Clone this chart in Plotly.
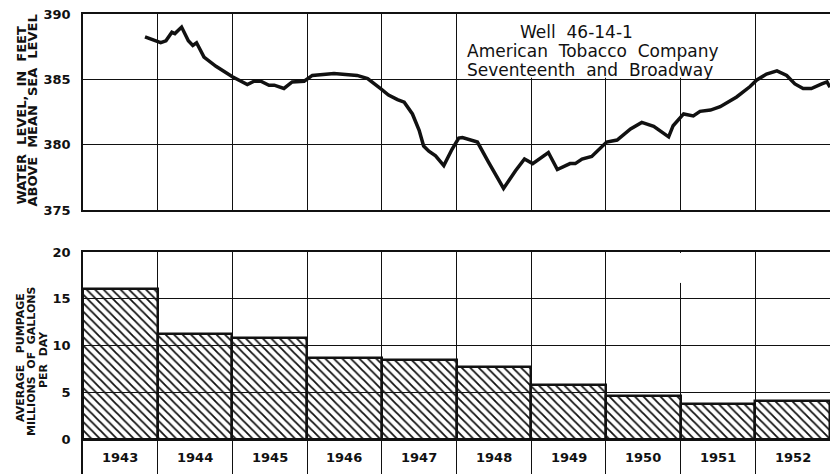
import plotly.graph_objects as go

# ---------------- data ----------------
# Water level, Well 46-14-1 (decimal year, feet above mean sea level)
level_year = [1943.83, 1944.04, 1944.11, 1944.19, 1944.23, 1944.32, 1944.41, 1944.47, 1944.52,
              1944.62, 1944.78, 1945.00, 1945.20, 1945.29, 1945.38, 1945.49, 1945.56, 1945.69,
              1945.80, 1945.96, 1946.07, 1946.36, 1946.67, 1946.81, 1946.98, 1947.09, 1947.21,
              1947.30, 1947.41, 1947.50, 1947.56, 1947.63, 1947.72, 1947.83, 1947.94, 1948.03,
              1948.08, 1948.28, 1948.43, 1948.63, 1948.79, 1948.91, 1949.02, 1949.23, 1949.35,
              1949.52, 1949.59, 1949.68, 1949.81, 1950.01, 1950.15, 1950.33, 1950.48, 1950.64,
              1950.84, 1950.90, 1951.04, 1951.17, 1951.26, 1951.40, 1951.53, 1951.75, 1951.93,
              1952.02, 1952.15, 1952.29, 1952.42, 1952.53, 1952.64, 1952.75, 1952.89, 1952.96,
              1953.00]
level_ft = [388.25, 387.8, 387.95, 388.6, 388.5, 389.0, 387.95, 387.6, 387.8,
            386.7, 386.0, 385.2, 384.6, 384.85, 384.85, 384.55, 384.55, 384.3,
            384.8, 384.85, 385.3, 385.45, 385.3, 385.05, 384.3, 383.8, 383.45,
            383.25, 382.35, 381.1, 379.9, 379.5, 379.15, 378.4, 379.65, 380.5,
            380.55, 380.2, 378.65, 376.65, 378.0, 378.9, 378.55, 379.4, 378.1,
            378.55, 378.55, 378.9, 379.1, 380.2, 380.35, 381.2, 381.7, 381.4,
            380.6, 381.45, 382.35, 382.2, 382.55, 382.65, 382.9, 383.65, 384.45,
            384.95, 385.4, 385.65, 385.3, 384.65, 384.3, 384.3, 384.65, 384.8,
            384.4]

# Average pumpage, millions of gallons per day
pump_years = [1943, 1944, 1945, 1946, 1947, 1948, 1949, 1950, 1951, 1952]
pump_mgd = [16.1, 11.3, 10.8, 8.7, 8.5, 7.7, 5.8, 4.6, 3.8, 4.1]

level_ticks = [375, 380, 385, 390]
pump_ticks = [0, 5, 10, 15, 20]
year_bounds = list(range(1943, 1954))

title_lines = ["Well\u00a0 46-14-1", "American\u00a0 Tobacco\u00a0 Company",
               "Seventeenth\u00a0 and\u00a0 Broadway"]

# ---------------- layout helpers ----------------
W, H = 830, 474
ML = 83
FONT = "DejaVu Sans"
INK = "#111111"


def px_x(px):
    return (px - ML) / (W - ML)


def px_y(py):
    return (H - py) / H


fig = go.Figure()

fig.add_trace(go.Scatter(
    x=level_year, y=level_ft, mode="lines",
    line=dict(color=INK, width=3.5),
    xaxis="x", yaxis="y", showlegend=False, hoverinfo="skip"))

fig.add_trace(go.Bar(
    x=[y + 0.5 for y in pump_years], y=pump_mgd, width=[1.0] * len(pump_years),
    marker=dict(color="rgba(0,0,0,0)",
                line=dict(color=INK, width=2.5),
                pattern=dict(shape="\\", fgcolor=INK, bgcolor="rgba(0,0,0,0)",
                             size=6, solidity=0.3, fillmode="replace")),
    xaxis="x2", yaxis="y2", showlegend=False, hoverinfo="skip"))

tickfont = dict(family=FONT, size=13, color=INK, weight="bold")

top_y0, top_y1 = 210, 14       # pixel rows of 375 and 390
bot_top, bot_zero = 252, 439.5  # pixel rows of 20 and 0
units_per_px = 20 / (bot_zero - bot_top)
bot_min = -(H - bot_zero) * units_per_px

common = dict(automargin=False, gridcolor=INK, gridwidth=1.2, linecolor=INK, linewidth=1.5)

fig.update_layout(
    template="none",
    width=W, height=H,
    margin=dict(l=ML, r=0, t=0, b=0, pad=0, autoexpand=False),
    paper_bgcolor="white", plot_bgcolor="white",
    showlegend=False,
    bargap=0,
    xaxis=dict(domain=[0, 1], range=[1943, 1953], anchor="y",
               tickmode="array", tickvals=year_bounds, showticklabels=False,
               ticks="", showgrid=True, showline=True, mirror=True,
               zeroline=False, **common),
    yaxis=dict(domain=[px_y(top_y0), px_y(top_y1)], range=[375, 390], anchor="x",
               tickmode="array", tickvals=level_ticks,
               ticks="", ticklabelstandoff=8, tickfont=tickfont,
               showgrid=True, showline=True, mirror=True,
               zeroline=False, **common),
    xaxis2=dict(domain=[0, 1], range=[1943, 1953], anchor="y2", side="top",
                tickmode="array", tickvals=year_bounds, showticklabels=False,
                ticks="", showgrid=True, showline=True, mirror=False,
                zeroline=False, **common),
    yaxis2=dict(domain=[0, px_y(bot_top)], range=[bot_min, 20], anchor="x2",
                tickmode="array", tickvals=pump_ticks,
                ticks="", ticklabelstandoff=8, tickfont=tickfont,
                showgrid=True, showline=True,
                zeroline=True, zerolinecolor=INK, zerolinewidth=2.5, **common),
)

# white box behind the well caption (hides grid lines)
fig.add_shape(type="rect", xref="x", yref="y",
              x0=1948.04, x1=1951.96, y0=385.12, y1=390,
              fillcolor="white", line=dict(width=0), layer="between")
# the 1951 division line starts below the top of the pumpage panel
fig.add_shape(type="rect", xref="x2", yref="y2",
              x0=1950.97, x1=1951.03, y0=16.7, y1=19.9,
              fillcolor="white", line=dict(width=0), layer="between")

# well caption
cap_font = dict(family=FONT, size=17, color=INK)
fig.add_annotation(text=title_lines[0], xref="paper", yref="paper",
                   x=px_x(518), y=px_y(32), xanchor="left", yanchor="middle",
                   showarrow=False, font=cap_font)
fig.add_annotation(text=title_lines[1], xref="paper", yref="paper",
                   x=px_x(465), y=px_y(51), xanchor="left", yanchor="middle",
                   showarrow=False, font=cap_font)
fig.add_annotation(text=title_lines[2], xref="paper", yref="paper",
                   x=px_x(465), y=px_y(70), xanchor="left", yanchor="middle",
                   showarrow=False, font=cap_font)

# year labels under the bars
for yr in pump_years:
    fig.add_annotation(text=str(yr), x=yr + 0.5, y=-1.97, xref="x2", yref="y2",
                       showarrow=False, font=tickfont,
                       xanchor="center", yanchor="middle")

# axis titles (rotated)
t_font = dict(family=FONT, size=13, color=INK, weight="bold")
fig.add_annotation(text="WATER\u00a0 LEVEL,\u00a0 IN\u00a0 FEET", textangle=-90,
                   xref="paper", yref="paper", x=px_x(20.5), y=px_y(116),
                   xanchor="center", yanchor="middle", showarrow=False, font=t_font)
fig.add_annotation(text="ABOVE\u00a0 MEAN\u00a0 SEA\u00a0 LEVEL", textangle=-90,
                   xref="paper", yref="paper", x=px_x(31.5), y=px_y(111),
                   xanchor="center", yanchor="middle", showarrow=False, font=t_font)

b_font = dict(family=FONT, size=11, color=INK, weight="bold")
fig.add_annotation(text="AVERAGE\u00a0\u00a0 PUMPAGE", textangle=-90,
                   xref="paper", yref="paper", x=px_x(20), y=px_y(358),
                   xanchor="center", yanchor="middle", showarrow=False, font=b_font)
fig.add_annotation(text="MILLIONS\u00a0 OF\u00a0 GALLONS", textangle=-90,
                   xref="paper", yref="paper", x=px_x(31), y=px_y(361),
                   xanchor="center", yanchor="middle", showarrow=False, font=b_font)
fig.add_annotation(text="PER\u00a0 DAY", textangle=-90,
                   xref="paper", yref="paper", x=px_x(43), y=px_y(360),
                   xanchor="center", yanchor="middle", showarrow=False, font=b_font)

fig.write_html("out.html",
               config={"displayModeBar": False},
               post_script="document.body.style.margin='0px';"
                           "document.body.style.overflow='hidden';")
